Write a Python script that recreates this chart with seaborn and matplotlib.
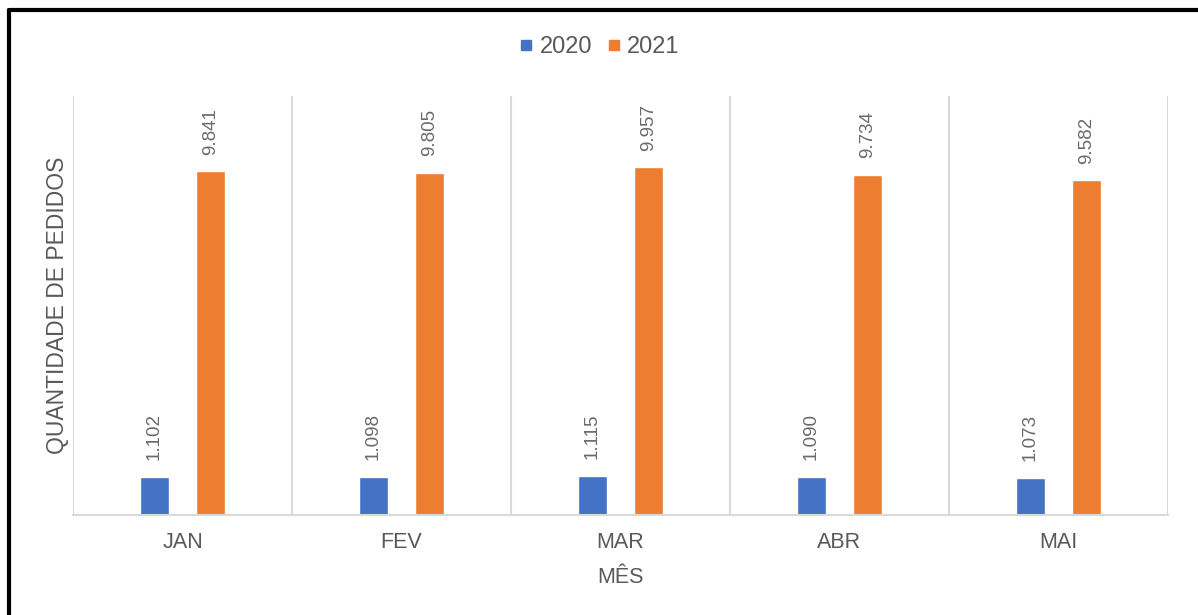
import matplotlib
matplotlib.use("Agg")
import matplotlib.pyplot as plt
import seaborn as sns
import pandas as pd
from matplotlib.lines import Line2D

meses = ["JAN", "FEV", "MAR", "ABR", "MAI"]
series = ["2020", "2021"]
v2020 = [1102, 1098, 1115, 1090, 1073]
v2021 = [9841, 9805, 9957, 9734, 9582]

sns.set_theme(style="white")
plt.rcParams["font.family"] = ["Liberation Sans", "DejaVu Sans"]

df = pd.DataFrame({
    "Mês": meses * 2,
    "Ano": [series[0]] * len(meses) + [series[1]] * len(meses),
    "Quantidade": v2020 + v2021,
})

colors = {"2020": "#4472C4", "2021": "#ED7D31"}
gray = "#595959"

fig = plt.figure(figsize=(11.98, 6.15), dpi=100)
ax = fig.add_axes([73 / 1198, 1 - 515 / 615, (1168 - 73) / 1198, (515 - 96) / 615])

sns.barplot(data=df, x="Mês", y="Quantidade", hue="Ano", order=meses,
            hue_order=series, palette=colors, width=0.52, gap=0.49,
            ax=ax, legend=False, saturation=1)

for cont in ax.containers:
    labels = [f"{v:,.0f}".replace(",", ".") for v in cont.datavalues]
    ax.bar_label(cont, labels=labels, rotation=90, padding=12,
                 fontsize=13.5, color="#6a6a6a")

ax.set_xlim(-0.5, len(meses) - 0.5)
ax.set_ylim(0, 12000)
for xv in range(len(meses) + 1):
    ax.axvline(xv - 0.5, color="#d9d9d9", lw=1.5, zorder=0)

for s in ["top", "right", "left"]:
    ax.spines[s].set_visible(False)
ax.spines["bottom"].set_color("#d9d9d9")
ax.spines["bottom"].set_linewidth(1.5)
ax.set_yticks([])
ax.tick_params(axis="x", length=0, pad=12, labelsize=15.5, labelcolor=gray)
ax.set_xlabel("MÊS", fontsize=15.5, color=gray, labelpad=10)
ax.set_ylabel("QUANTIDADE DE PEDIDOS", fontsize=16.5, color=gray, labelpad=3)

handles = [Line2D([], [], marker="s", linestyle="", markersize=7.5,
                  markerfacecolor=colors[s], markeredgecolor=colors[s]) for s in series]
fig.legend(handles, series, loc="center", bbox_to_anchor=(0.5, 1 - 47 / 615),
           ncol=2, frameon=False, fontsize=17, labelcolor=gray,
           handletextpad=0.2, columnspacing=0.6, handlelength=0.7)

# outer frame (top and left edges of the cropped chart box)
fig.add_artist(Line2D([9 / 1198, 9 / 1198], [0, 1 - 10 / 615], color="black", lw=3,
                      transform=fig.transFigure))
fig.add_artist(Line2D([9 / 1198, 1], [1 - 10 / 615, 1 - 10 / 615], color="black", lw=3,
                      transform=fig.transFigure))

fig.savefig("out.png", dpi=100, facecolor="white")
